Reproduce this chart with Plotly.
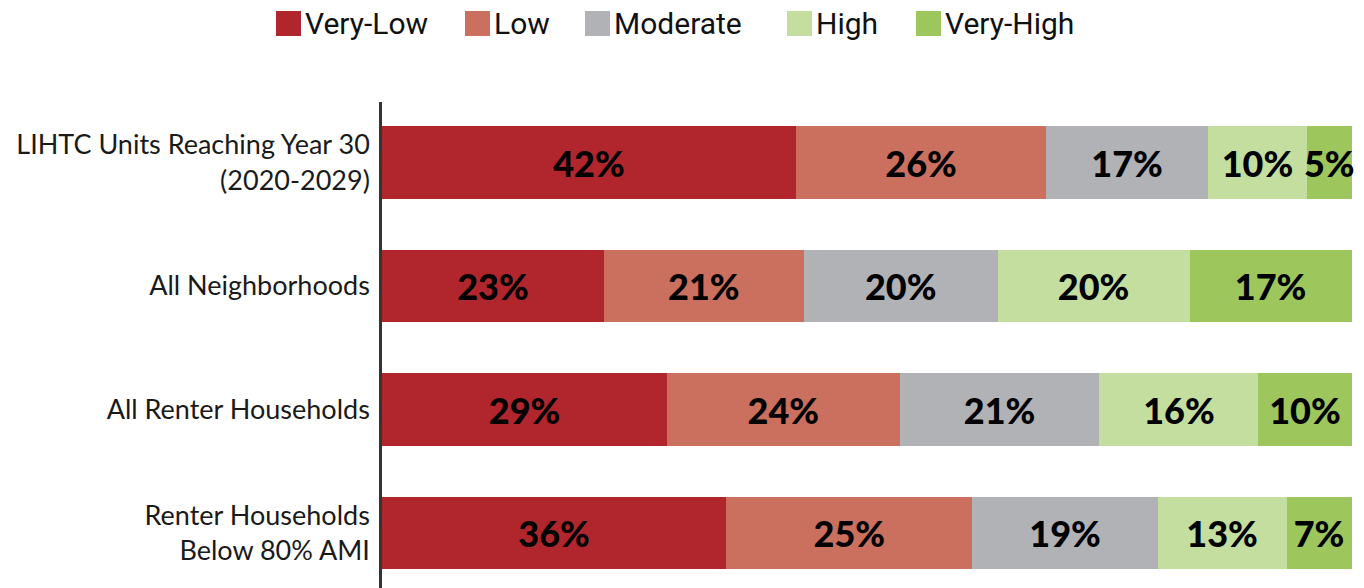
import plotly.graph_objects as go

categories = ["LIHTC Units Reaching Year 30<br>(2020-2029)", "All Neighborhoods",
              "All Renter Households", "Renter Households<br>Below 80% AMI"]
series_names = ["Very-Low", "Low", "Moderate", "High", "Very-High"]
colors = ["#B1252D", "#CB6F5E", "#B1B2B6", "#C4DEA0", "#9DC65C"]

# bar widths (share of total, %)
very_low = [42.7, 22.9, 29.4, 35.5]
low = [25.8, 20.6, 24.0, 25.4]
moderate = [16.7, 20.0, 20.6, 19.1]
high = [10.2, 19.8, 16.4, 13.3]
very_high = [4.6, 16.7, 9.6, 6.7]

# printed labels
very_low_lbl = ["42%", "23%", "29%", "36%"]
low_lbl = ["26%", "21%", "24%", "25%"]
moderate_lbl = ["17%", "20%", "21%", "19%"]
high_lbl = ["10%", "20%", "16%", "13%"]
very_high_lbl = ["5%", "17%", "10%", "7%"]

values = [very_low, low, moderate, high, very_high]
labels = [very_low_lbl, low_lbl, moderate_lbl, high_lbl, very_high_lbl]

W, H = 1364, 588
ML, MR, MT, MB = 382, 12, 102, 0

fig = go.Figure()
for name, vals, lbl, col in zip(series_names, values, labels, colors):
    fig.add_trace(go.Bar(
        y=categories, x=vals, name=name, orientation="h",
        marker=dict(color=col, line=dict(width=0)),
        text=lbl, texttemplate="%{text}", textposition="inside", textangle=0,
        insidetextanchor="middle", constraintext="none", cliponaxis=False,
        textfont=dict(family="Lato", size=36, color="#000000", weight=900),
        showlegend=False, hoverinfo="skip",
    ))

# manual legend (large square swatches like the reference)
def px_x(X):
    return (X - ML) / (W - ML - MR)

def px_y(Y):
    return (H - MB - Y) / (H - MT - MB)

legend_sq_x = [276, 465, 585, 787, 916]
sq = 25
for name, col, x0 in zip(series_names, colors, legend_sq_x):
    fig.add_shape(type="rect", xref="paper", yref="paper",
                  x0=px_x(x0), x1=px_x(x0 + sq), y0=px_y(36), y1=px_y(36 - sq),
                  fillcolor=col, line=dict(width=0), layer="above")
    fig.add_annotation(xref="paper", yref="paper", x=px_x(x0 + sq + 2), y=px_y(24),
                       xanchor="left", yanchor="middle", showarrow=False,
                       text=name, font=dict(family="Roboto", size=30, color="#111111"))

fig.update_layout(
    width=W, height=H, barmode="stack", bargap=0.41,
    margin=dict(l=ML, r=MR, t=MT, b=MB, pad=0),
    plot_bgcolor="white", paper_bgcolor="white",
    xaxis=dict(range=[0, 100.05], visible=False, fixedrange=True),
    yaxis=dict(range=[3.445, -0.49], showline=True, linecolor="#333333", linewidth=2.5,
               showgrid=False, ticks="", ticklabelstandoff=4, fixedrange=True,
               tickfont=dict(family="Lato", size=27, color="#1a1a1a")),
)

fig.write_html("out.html", config={"displayModeBar": False},
               post_script="document.body.style.margin='0';document.body.style.padding='0';")
